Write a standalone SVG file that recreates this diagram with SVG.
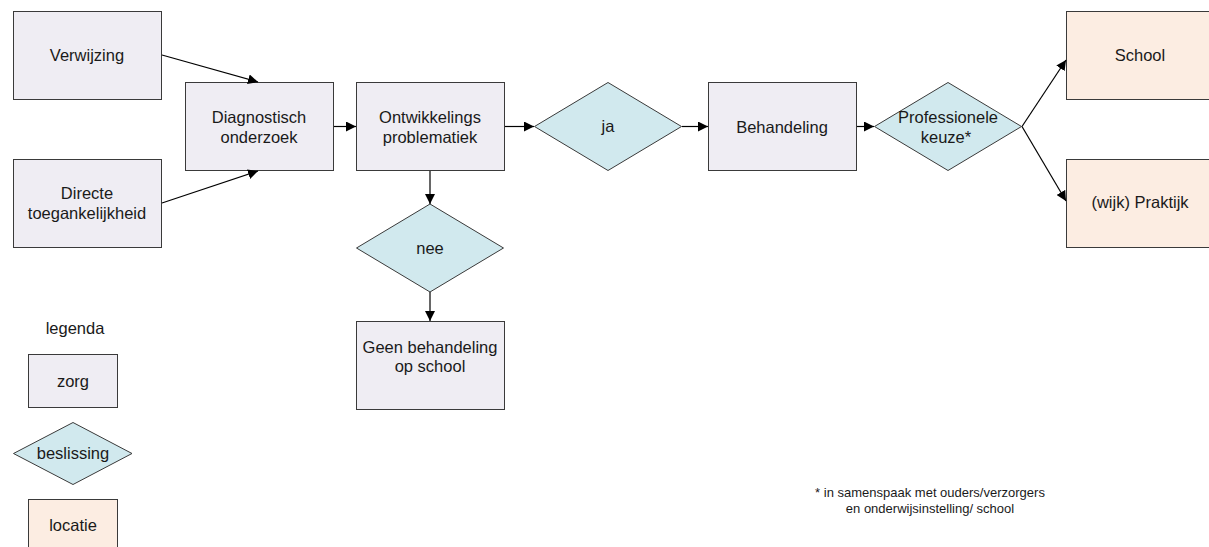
<svg xmlns="http://www.w3.org/2000/svg" width="1209" height="547" viewBox="0 0 1209 547">
<style>
text{font-family:"Liberation Sans",Arial,sans-serif;font-size:16.5px;fill:#1a1a1a;text-anchor:middle}
.zorg{fill:#EFEDF3;stroke:#3a3a3a;stroke-width:1}
.besl{fill:#D1E9EE;stroke:#3a3a3a;stroke-width:1}
.loc{fill:#FCEDE2;stroke:#3a3a3a;stroke-width:1}
.conn line,.conn path{stroke:#000;stroke-width:1.2;fill:none;marker-end:url(#ah)}
.note{font-size:13px}
</style>
<defs>
<marker id="ah" viewBox="0 0 10 10" refX="10" refY="5" markerWidth="10" markerHeight="10" markerUnits="userSpaceOnUse" orient="auto">
<path d="M0,0 L10,5 L0,10 z" fill="#000"/>
</marker>
</defs>
<g id="verwijzing"><rect class="zorg" x="13.5" y="11.5" width="148" height="88"/><text x="87" y="61">Verwijzing</text></g>
<g id="directe"><rect class="zorg" x="13.5" y="159.5" width="148" height="88"/><text x="87" y="199">Directe</text><text x="87" y="219">toegankelijkheid</text></g>
<g id="diagnostisch"><rect class="zorg" x="185.5" y="82.5" width="148" height="88"/><text x="259" y="123">Diagnostisch</text><text x="259" y="143">onderzoek</text></g>
<g id="ontwikkelings"><rect class="zorg" x="356.5" y="82.5" width="148" height="88"/><text x="430" y="123">Ontwikkelings</text><text x="430" y="143">problematiek</text></g>
<g id="ja"><polygon class="besl" points="534.5,126.5 608,82.5 681.5,126.5 608,170.5"/><text x="608" y="132">ja</text></g>
<g id="behandeling"><rect class="zorg" x="708.5" y="82.5" width="148" height="88"/><text x="782" y="133">Behandeling</text></g>
<g id="professionele"><polygon class="besl" points="874.5,126.5 948,82.5 1021.5,126.5 948,170.5"/><text x="948" y="123">Professionele</text><text x="946" y="143">keuze*</text></g>
<g id="school"><rect class="loc" x="1066.5" y="11.5" width="148" height="88"/><text x="1140" y="61">School</text></g>
<g id="praktijk"><rect class="loc" x="1066.5" y="159.5" width="148" height="88"/><text x="1140" y="208">(wijk) Praktijk</text></g>
<g id="nee"><polygon class="besl" points="356.5,248 430,204 503.5,248 430,292"/><text x="430" y="254">nee</text></g>
<g id="geen"><rect class="zorg" x="356.5" y="321.5" width="148" height="88"/><text x="430" y="353">Geen behandeling</text><text x="430" y="372">op school</text></g>
<g id="legenda"><text x="75" y="334">legenda</text></g>
<g id="legend-zorg"><rect class="zorg" x="28.5" y="354.5" width="89" height="53"/><text x="73" y="387">zorg</text></g>
<g id="legend-beslissing"><polygon class="besl" points="13.5,453.5 73,422.5 132,453.5 73,484.5"/><text x="73" y="459">beslissing</text></g>
<g id="legend-locatie"><rect class="loc" x="28.5" y="499.5" width="89" height="60"/><text x="73" y="531">locatie</text></g>
<g id="footnote"><text class="note" x="930" y="497">* in samenspaak met ouders/verzorgers</text><text class="note" x="930" y="513">en onderwijsinstelling/ school</text></g>
<g class="conn" id="connectors">
<line x1="162" y1="55" x2="258" y2="82"/>
<line x1="162" y1="203" x2="258" y2="171"/>
<line x1="334" y1="126.5" x2="356" y2="126.5"/>
<line x1="505" y1="126.5" x2="534" y2="126.5"/>
<line x1="682" y1="126.5" x2="708" y2="126.5"/>
<line x1="857" y1="126.5" x2="874" y2="126.5"/>
<line x1="1022" y1="126.5" x2="1066" y2="60"/>
<line x1="1022" y1="126.5" x2="1066" y2="201"/>
<line x1="430" y1="171" x2="430" y2="204"/>
<line x1="430" y1="292" x2="430" y2="321"/>
</g>
</svg>
